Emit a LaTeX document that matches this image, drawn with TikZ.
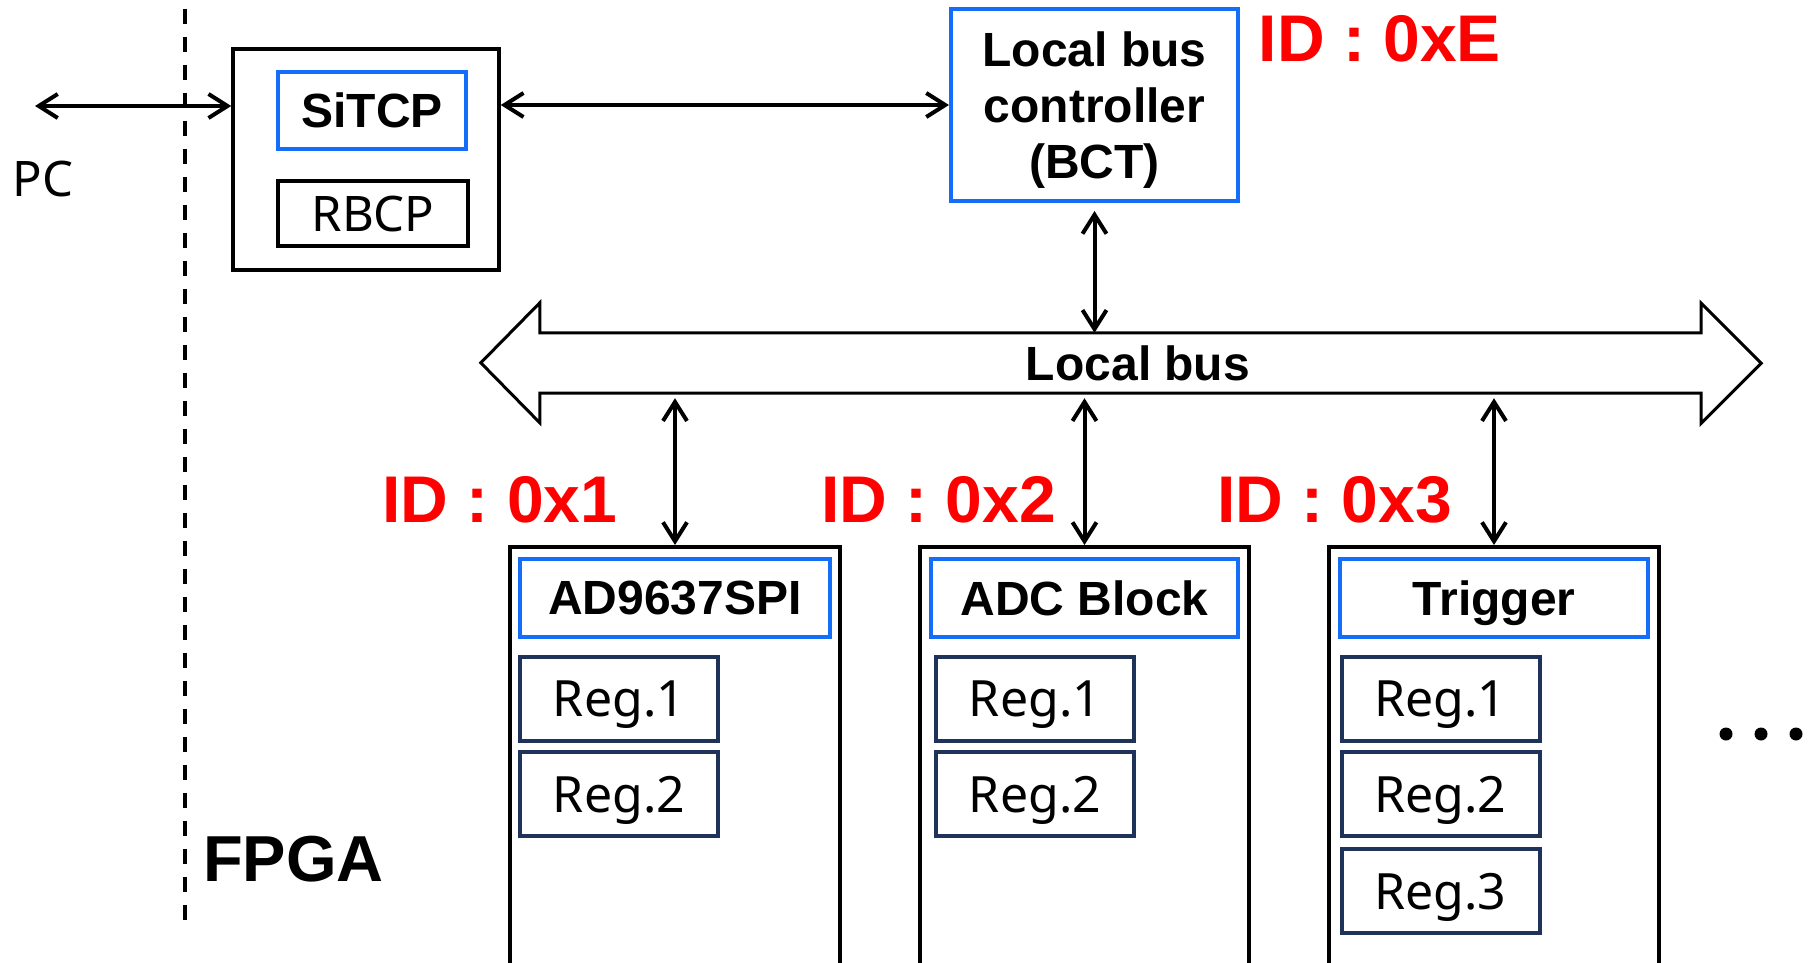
\documentclass[tikz,border=0pt]{standalone}
\usepackage{fontspec}
\setmainfont{Noto Sans}
\newfontfamily\heavyfont{Liberation Sans}
\usetikzlibrary{arrows.meta}
\definecolor{BoxBlue}{RGB}{20,110,250}
\definecolor{RegNavy}{RGB}{31,51,90}
\definecolor{IdRed}{RGB}{255,0,0}

\tikzset{
	blk/.style={draw, line width=3.5pt, rectangle, inner sep=0pt},
	bluebox/.style={draw=BoxBlue, line width=4pt, rectangle, inner sep=0pt, text depth=0pt, font=\fontsize{48}{56}\heavyfont\bfseries},
	regbox/.style={draw=RegNavy, line width=4pt, rectangle, minimum width=198pt, minimum height=84pt, inner sep=0pt, text depth=0pt, font=\fontsize{50}{56}\selectfont},
	idlabel/.style={text=IdRed, inner sep=0pt, text depth=0pt, font=\fontsize{66}{70}\heavyfont\bfseries},
	link/.style={line width=4pt, {Straight Barb[length=19pt,width=24pt]}-{Straight Barb[length=19pt,width=24pt]}},
}

\begin{document}
\begin{tikzpicture}[x=1pt,y=1pt,yscale=-1,xscale=1]
		% Page is 1812 x 963
		\useasboundingbox (0,0) rectangle (1812,963);
		\clip (0,0) rectangle (1812,963);

		% FPGA border (dashed) and the PC side
		\draw[line width=4pt, dash pattern=on 15pt off 13pt] (185,9) -- (185,921);
		\node[inner sep=0pt, font=\fontsize{49}{56}\selectfont] (pc) at (43,179) {PC};
		\coordinate (pcend) at (35,106);
		\node[inner sep=0pt, text depth=0pt, font=\fontsize{65}{72}\heavyfont\bfseries] (fpga) at (293.5,858.5) {FPGA};

		% SiTCP block
		\node[blk, minimum width=266pt, minimum height=221pt] (sitcpblk) at (366,159.5) {};
		\node[bluebox, minimum width=188pt, minimum height=77pt] (sitcp) at (372,110.5) {SiTCP};
		\node[blk, minimum width=190pt, minimum height=65pt, text depth=0pt, font=\fontsize{49}{56}\selectfont] (rbcp) at (373,213.5) {RBCP};

		% Local bus controller
		\node[bluebox, minimum width=287pt, minimum height=192pt, align=center] (bct) at (1094.5,105) {Local bus\\controller\\(BCT)};
		\node[idlabel] (idbct) at (1380,38.5) {ID : 0xE};

		% Local bus (double arrow)
		\node[inner sep=0pt, minimum width=1161pt, minimum height=60pt] (bus) at (1120.5,363) {};
		\draw[line width=3pt, line join=miter] (bus.north west) -- ++(0,-30) -- ++(-59,60) -- ++(59,60) -- (bus.south west)
			-- (bus.south east) -- ++(0,30) -- ++(60,-60) -- ++(-60,-60) -- (bus.north east) -- cycle;
		\node[inner sep=0pt, text depth=0pt, font=\fontsize{48}{56}\heavyfont\bfseries] (buslbl) at (1138,363) {Local bus};

		% Module 1
		\node[blk, line width=4pt, minimum width=330pt, minimum height=440pt] (mod1) at (675,767) {};
		\node[bluebox, minimum width=310pt, minimum height=78pt] (mod1title) at (675,598) {AD9637SPI};
		\node[regbox] (mod1reg1) at (619,699) {Reg.1};
		\node[regbox] (mod1reg2) at (619,794) {Reg.2};
		\node[idlabel] (id1) at (500,499) {ID : 0x1};

		% Module 2
		\node[blk, line width=4pt, minimum width=329pt, minimum height=440pt] (mod2) at (1084.5,767) {};
		\node[bluebox, minimum width=307pt, minimum height=78pt] (mod2title) at (1084.5,598) {ADC Block};
		\node[regbox] (mod2reg1) at (1035,699) {Reg.1};
		\node[regbox] (mod2reg2) at (1035,794) {Reg.2};
		\node[idlabel] (id2) at (938.5,499) {ID : 0x2};

		% Module 3
		\node[blk, line width=4pt, minimum width=330pt, minimum height=440pt] (mod3) at (1494,767) {};
		\node[bluebox, minimum width=308pt, minimum height=78pt] (mod3title) at (1494,598) {Trigger};
		\node[regbox] (mod3reg1) at (1440.5,699) {Reg.1};
		\node[regbox] (mod3reg2) at (1440.5,794) {Reg.2};
		\node[regbox] (mod3reg3) at (1440.5,891) {Reg.3};
		\node[idlabel] (id3) at (1334.5,499) {ID : 0x3};

		% More modules
		\fill (1726,734) circle (6.5pt);
		\fill (1761,734) circle (6.5pt);
		\fill (1796,734) circle (6.5pt);

		% Connections
		\draw[link] (pcend) -- (pcend -| sitcpblk.west);
		\draw[link] (sitcpblk.east |- bct.west) -- (bct.west);
		\draw[link, shorten <=8pt] (bct.south) -- (bct.south |- bus.north);
		\draw[link, shorten >=5pt] (mod1.north) -- (mod1.north |- bus.south);
		\draw[link, shorten >=5pt] (mod2.north) -- (mod2.north |- bus.south);
		\draw[link, shorten >=5pt] (mod3.north) -- (mod3.north |- bus.south);
	\end{tikzpicture}
\end{document}
